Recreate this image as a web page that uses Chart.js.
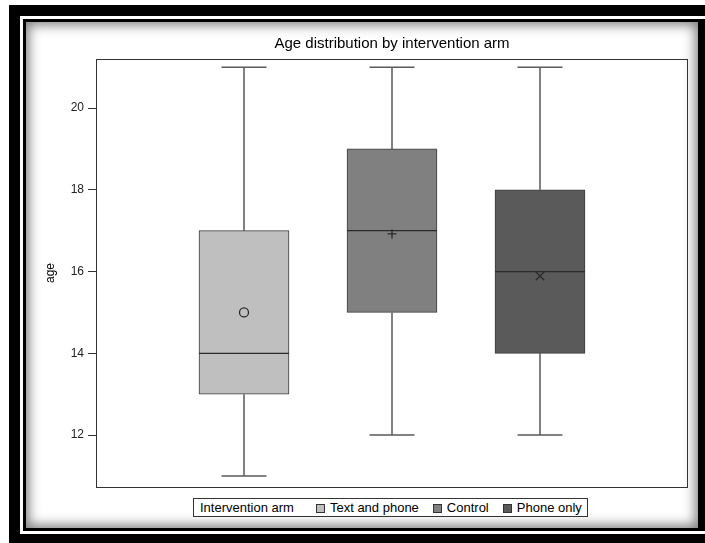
<!DOCTYPE html>
<html>
<head>
<meta charset="utf-8">
<title>Age distribution by intervention arm</title>
<script src="https://cdn.jsdelivr.net/npm/chart.js@4.4.7/dist/chart.umd.min.js"></script>
<style>
  html, body { margin: 0; padding: 0; width: 705px; height: 543px; overflow: hidden; background: #fff; }
  body { position: relative; font-family: Arial, "Liberation Sans", sans-serif; }
  /* ---- picture frame (thick black, white hairline, black, shadowed panel) ---- */
  .f1 { position: absolute; left: 9px; top: 5px; width: 720px; height: 560px; background: #000; }
  .f2 { position: absolute; left: 20px; top: 16px; width: 700px; height: 518px; background: #fff; }
  .f3 { position: absolute; left: 23px; top: 19px; width: 700px; height: 512px; background: #000; }
  .panel { position: absolute; left: 26px; top: 22px; width: 672px; height: 506px; background: #fff;
           box-shadow: inset 0 0 12px 3px rgba(0, 0, 0, 0.5); }
  .chart-wrap { position: absolute; left: 0; top: 0; width: 705px; height: 543px; }
  .legend { position: absolute; left: 193px; top: 498px; height: 19px; box-sizing: border-box;
            border: 1px solid #333; background: #fff; padding: 0 5px 0 6px; font-size: 13px;
            line-height: 17px; white-space: nowrap; color: #000; }
  .legend .item { margin-left: 14px; }
  .legend .item.first { margin-left: 22px; }
  .legend .swatch { display: inline-block; width: 7px; height: 7px; border: 1px solid #333;
                    margin-right: 5px; vertical-align: -1px; }
</style>
</head>
<body>
<div class="f1"></div>
<div class="f2"></div>
<div class="f3"></div>
<div class="panel"></div>
<div class="chart-wrap"><canvas id="boxChart" width="705" height="543"></canvas></div>
<div class="legend" id="legend"></div>

<script>
// ---- Data ----
var categories = ["Text and phone", "Control", "Phone only"];
var whiskerLow = [11, 12, 12];
var q1 = [13, 15, 14];
var medians = [14, 17, 16];
var q3 = [17, 19, 18];
var whiskerHigh = [21, 21, 21];
var means = [15, 16.92, 15.89];
var meanSymbols = ["circle", "cross", "crossRot"];
var yTicks = [12, 14, 16, 18, 20];

(function () {
  "use strict";

  // ---- Palette ----
  var COLORS = {
    fills: ["#BFBFBF", "#808080", "#5A5A5A"],
    outline: "#3C3C3C",
    whisker: "#5A5A5A",
    axis: "#333333",
    text: "#000000",
  };

  // Category axis padded with an empty slot at each end, so boxes land at 1/4, 2/4, 3/4
  var xLabels = [""].concat(categories, [""]);
  function pad(arr, fill) { return [fill].concat(arr, [fill]); }

  var boxRanges = pad(categories.map(function (c, i) { return [q1[i], q3[i]]; }), null);

  // ---- Whiskers, caps, medians and plot frame ----
  var boxPlotLines = {
    id: "boxPlotLines",
    beforeDatasetsDraw: function (chart) {
      var ctx = chart.ctx;
      var y = chart.scales.y;
      var bars = chart.getDatasetMeta(0).data;
      ctx.save();
      ctx.strokeStyle = COLORS.whisker;
      ctx.lineWidth = 1.5;
      categories.forEach(function (c, i) {
        var bar = bars[i + 1];
        var cx = Math.round(bar.x);
        var half = bar.width / 4;
        var yLo = y.getPixelForValue(whiskerLow[i]);
        var yHi = y.getPixelForValue(whiskerHigh[i]);
        ctx.beginPath();
        ctx.moveTo(cx, yHi);
        ctx.lineTo(cx, y.getPixelForValue(q3[i]));
        ctx.moveTo(cx, y.getPixelForValue(q1[i]));
        ctx.lineTo(cx, yLo);
        ctx.moveTo(cx - half, yHi);
        ctx.lineTo(cx + half, yHi);
        ctx.moveTo(cx - half, yLo);
        ctx.lineTo(cx + half, yLo);
        ctx.stroke();
      });
      ctx.restore();
    },
    afterDatasetDraw: function (chart, args) {
      if (args.index !== 0) return;
      var ctx = chart.ctx;
      var y = chart.scales.y;
      var bars = chart.getDatasetMeta(0).data;
      ctx.save();
      ctx.strokeStyle = "#2A2A2A";
      ctx.lineWidth = 1.3;
      categories.forEach(function (c, i) {
        var bar = bars[i + 1];
        var ym = y.getPixelForValue(medians[i]);
        ctx.beginPath();
        ctx.moveTo(bar.x - bar.width / 2, ym);
        ctx.lineTo(bar.x + bar.width / 2, ym);
        ctx.stroke();
      });
      ctx.restore();
    },
    afterDraw: function (chart) {
      var a = chart.chartArea;
      var ctx = chart.ctx;
      ctx.save();
      ctx.strokeStyle = COLORS.axis;
      ctx.lineWidth = 1;
      ctx.strokeRect(Math.round(a.left) + 0.5, Math.round(a.top) + 0.5,
        Math.round(a.right - a.left) - 1, Math.round(a.bottom - a.top));
      ctx.restore();
    },
  };

  // ---- Chart ----
  var ctx = document.getElementById("boxChart").getContext("2d");

  new Chart(ctx, {
    type: "bar",
    data: {
      labels: xLabels,
      datasets: [
        {
          label: "Interquartile range",
          data: boxRanges,
          backgroundColor: pad(COLORS.fills, "#fff"),
          borderColor: COLORS.outline,
          borderWidth: 1,
          borderSkipped: false,
          barThickness: 90,
          order: 2,
        },
        {
          type: "line",
          label: "Mean",
          data: pad(means, null),
          showLine: false,
          pointStyle: pad(meanSymbols, "circle"),
          pointRadius: [0, 4.5, 4.5, 6, 0],
          pointBorderColor: "#2A2A2A",
          pointBackgroundColor: "rgba(0,0,0,0)",
          pointBorderWidth: 1.3,
          order: 1,
        },
      ],
    },
    options: {
      responsive: false,
      animation: false,
      events: [],
      layout: { padding: { left: 39, right: 17, top: 27, bottom: 56 } },
      plugins: {
        legend: { display: false }, // HTML legend below the plot
        tooltip: { enabled: false },
        title: {
          display: true,
          fullSize: false,
          text: "Age distribution by intervention arm",
          color: COLORS.text,
          font: { family: "Arial, 'Liberation Sans', sans-serif", size: 15, weight: "normal" },
          padding: { top: 8, bottom: 6 },
        },
      },
      scales: {
        x: {
          display: false,
          offset: false,
        },
        y: {
          min: 10.73,
          max: 21.2,
          afterBuildTicks: function (scale) {
            scale.ticks = yTicks.map(function (v) { return { value: v }; });
          },
          afterFit: function (scale) { scale.width = 57; },
          border: { display: false },
          grid: { drawOnChartArea: false, drawTicks: true, tickLength: 8, color: COLORS.axis },
          ticks: {
            color: "#222",
            padding: 4,
            font: { family: "Arial, 'Liberation Sans', sans-serif", size: 12 },
          },
          title: {
            display: true,
            text: "age",
            color: COLORS.text,
            padding: { top: 4, bottom: 0 },
            font: { family: "Arial, 'Liberation Sans', sans-serif", size: 12 },
          },
        },
      },
    },
    plugins: [boxPlotLines],
  });

  // ---- Legend ----
  var legend = document.getElementById("legend");
  var title = document.createElement("span");
  title.textContent = "Intervention arm";
  legend.appendChild(title);
  categories.forEach(function (name, i) {
    var item = document.createElement("span");
    item.className = "item" + (i === 0 ? " first" : "");
    var sw = document.createElement("span");
    sw.className = "swatch";
    sw.style.background = COLORS.fills[i];
    item.appendChild(sw);
    item.appendChild(document.createTextNode(name));
    legend.appendChild(item);
  });
})();
</script>
</body>
</html>
